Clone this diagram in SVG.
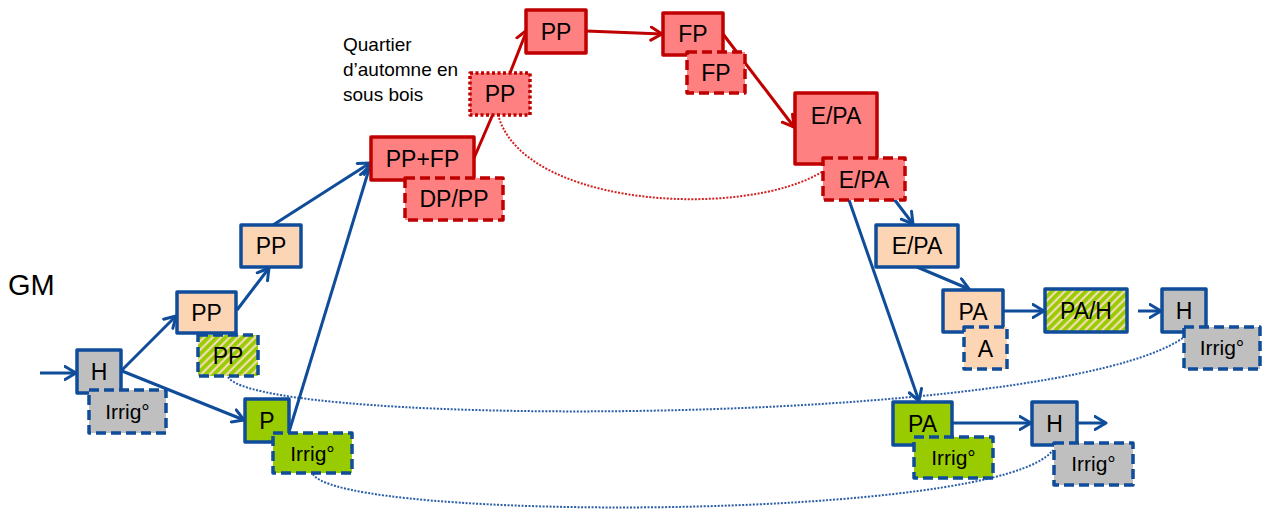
<svg xmlns="http://www.w3.org/2000/svg" width="1263" height="513" viewBox="0 0 1263 513">
<style>
  .bx{stroke-width:3.5;stroke-linejoin:round}
  .b{stroke:#0f4c9a}
  .r{stroke:#c00000}
  .dash{stroke-dasharray:10 5}
  .dot{stroke-dasharray:3 2.5}
  .peach{fill:#fcd5b5}
  .gray{fill:#bfbfbf}
  .green{fill:#99cc00}
  .red{fill:#ff8080}
  .hatch{fill:url(#hatch)}
  .t{font-family:"Liberation Sans",Arial,sans-serif;font-size:23px;fill:#000;text-anchor:middle}
  .ts{font-size:21px}
  .cb{fill:none;stroke:#0f4c9a;stroke-width:3}
  .cr{fill:none;stroke:#c00000;stroke-width:3}
  .db{fill:none;stroke:#2a5ea8;stroke-width:2;stroke-dasharray:2 1.5}
  .dr{fill:none;stroke:#d42020;stroke-width:2;stroke-dasharray:2 1.5}
</style>
<defs>
  <pattern id="hatch" width="6" height="6" patternUnits="userSpaceOnUse" patternTransform="rotate(45)">
    <rect width="6" height="6" fill="#f2dcb4"/>
    <rect width="3.8" height="6" fill="#99cc00"/>
  </pattern>
  <marker id="ab" viewBox="0 0 14 16" markerWidth="14" markerHeight="16" refX="12.5" refY="8" orient="auto" markerUnits="userSpaceOnUse">
    <path d="M1.5,1.5 L12.5,8 L1.5,14.5" fill="none" stroke="#0f4c9a" stroke-width="3" stroke-linecap="round" stroke-linejoin="round"/>
  </marker>
  <marker id="ar" viewBox="0 0 14 16" markerWidth="14" markerHeight="16" refX="12.5" refY="8" orient="auto" markerUnits="userSpaceOnUse">
    <path d="M1.5,1.5 L12.5,8 L1.5,14.5" fill="none" stroke="#c00000" stroke-width="3" stroke-linecap="round" stroke-linejoin="round"/>
  </marker>
</defs>
<rect width="1263" height="513" fill="#fff"/>

<text x="8" y="295" style="font-family:'Liberation Sans',Arial,sans-serif;font-size:29px;fill:#000">GM</text>
<text style="font-family:'Liberation Sans',Arial,sans-serif;font-size:19px;fill:#000">
  <tspan x="343" y="51">Quartier</tspan>
  <tspan x="343" y="76">d’automne en</tspan>
  <tspan x="343" y="101">sous bois</tspan>
</text>

<g id="connectors">
  <path class="dr" d="M499,118 C530,215 780,220 837,160"/>
  <path class="db" d="M228,377 C260,428 1050,428 1183,338"/>
  <path class="db" d="M313,474 C340,522 1000,522 1053,450"/>
  <path class="cb" marker-end="url(#ab)" d="M40,373 L76,373"/>
  <path class="cb" marker-end="url(#ab)" d="M122,370 L176,316"/>
  <path class="cb" marker-end="url(#ab)" d="M122,371 L244,420"/>
  <path class="cb" marker-end="url(#ab)" d="M237,310 L269,268"/>
  <path class="cb" marker-end="url(#ab)" d="M273,225 L370,163"/>
  <path class="cb" marker-end="url(#ab)" d="M289,432 L370,166"/>
  <path class="cr" d="M474,158 L493,114"/>
  <path class="cr" marker-end="url(#ar)" d="M510,73 L527,30"/>
  <path class="cr" marker-end="url(#ar)" d="M586,31 L662,34"/>
  <path class="cr" marker-end="url(#ar)" d="M723,34 L794,127"/>
  <path class="cb" marker-end="url(#ab)" d="M894,199 L913,224"/>
  <path class="cb" marker-end="url(#ab)" d="M849,200 L919,401"/>
  <path class="cb" marker-end="url(#ab)" d="M917,267 L969,289"/>
  <path class="cb" marker-end="url(#ab)" d="M1003,311 L1044,311"/>
  <path class="cb" marker-end="url(#ab)" d="M1138,311 L1161,311"/>
  <path class="cb" marker-end="url(#ab)" d="M952,423 L1031,423"/>
  <path class="cb" marker-end="url(#ab)" d="M1077,423 L1106,423"/>
</g>

<g id="n-H1"><rect class="bx b gray" x="77" y="350" width="44" height="43"/><text class="t" x="99" y="380">H</text></g>
<g id="n-Irrig1"><rect class="bx b gray dash" x="89" y="390" width="77" height="43"/><text class="t ts" x="127.5" y="419">Irrig°</text></g>
<g id="n-PP1"><rect class="bx b peach" x="177" y="292" width="59" height="41"/><text class="t" x="206.5" y="321">PP</text></g>
<g id="n-PP1h"><rect class="bx b hatch dash" x="198" y="335" width="60" height="41"/><text class="t" x="228" y="364">PP</text></g>
<g id="n-PP2"><rect class="bx b peach" x="241" y="225" width="60" height="42"/><text class="t" x="271" y="254">PP</text></g>
<g id="n-P"><rect class="bx b green" x="245" y="399" width="44" height="43"/><text class="t" x="267" y="429">P</text></g>
<g id="n-Irrig2"><rect class="bx b green dash" x="273" y="433" width="79" height="40"/><text class="t ts" x="312.5" y="461">Irrig°</text></g>
<g id="n-PPFP"><rect class="bx r red" x="371" y="137" width="103" height="43"/><text class="t" x="422.5" y="167">PP+FP</text></g>
<g id="n-DPPP"><rect class="bx r red dash" x="405" y="178" width="98" height="42"/><text class="t" x="454" y="207">DP/PP</text></g>
<g id="n-PPdot"><rect class="bx r red dot" x="470" y="73" width="60" height="42"/><text class="t" x="500" y="102">PP</text></g>
<g id="n-PPtop"><rect class="bx r red" x="526" y="10" width="60" height="43"/><text class="t" x="556" y="40">PP</text></g>
<g id="n-FP"><rect class="bx r red" x="663" y="13" width="60" height="42"/><text class="t" x="693" y="42">FP</text></g>
<g id="n-FPd"><rect class="bx r red dash" x="687" y="52" width="58" height="41"/><text class="t" x="716" y="81">FP</text></g>
<g id="n-EPA"><rect class="bx r red" x="795" y="93" width="82" height="71"/><text class="t" x="836" y="124">E/PA</text></g>
<g id="n-EPAd"><rect class="bx r red dash" x="823" y="158" width="82" height="42"/><text class="t" x="864" y="188">E/PA</text></g>
<g id="n-EPAp"><rect class="bx b peach" x="876" y="225" width="82" height="42"/><text class="t" x="917" y="254">E/PA</text></g>
<g id="n-PAp"><rect class="bx b peach" x="943" y="290" width="60" height="42"/><text class="t" x="973" y="320">PA</text></g>
<g id="n-A"><rect class="bx b peach dash" x="964" y="327" width="43" height="42"/><text class="t" x="985.5" y="357">A</text></g>
<g id="n-PAH"><rect class="bx b hatch" x="1045" y="289" width="82" height="43"/><text class="t" x="1086" y="319">PA/H</text></g>
<g id="n-H3"><rect class="bx b gray" x="1162" y="289" width="44" height="43"/><text class="t" x="1184" y="319">H</text></g>
<g id="n-Irrig3"><rect class="bx b gray dash" x="1184" y="327" width="76" height="42"/><text class="t ts" x="1222" y="355">Irrig°</text></g>
<g id="n-PAg"><rect class="bx b green" x="893" y="402" width="59" height="43"/><text class="t" x="922.5" y="432">PA</text></g>
<g id="n-Irrig4"><rect class="bx b green dash" x="914" y="437" width="79" height="41"/><text class="t ts" x="953.5" y="465">Irrig°</text></g>
<g id="n-H4"><rect class="bx b gray" x="1032" y="402" width="45" height="43"/><text class="t" x="1054.5" y="432">H</text></g>
<g id="n-Irrig5"><rect class="bx b gray dash" x="1054" y="443" width="79" height="42"/><text class="t ts" x="1093.5" y="471">Irrig°</text></g>
</svg>
